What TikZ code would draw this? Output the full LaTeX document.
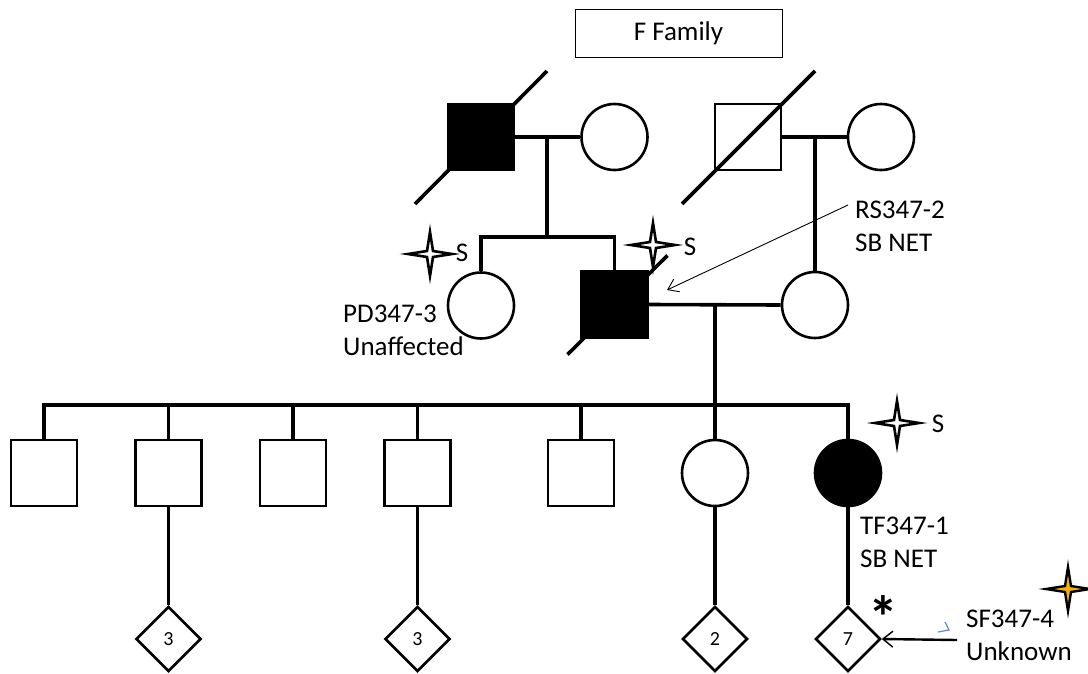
\documentclass[tikz,border=0pt]{standalone}
\usepackage{fontspec}
\setmainfont{Carlito}
\usetikzlibrary{shapes.geometric,arrows.meta}
\definecolor{stargold}{HTML}{F4B400}
\definecolor{penblue}{RGB}{90,140,220}
\newcommand\idlines[2]{\begin{tabular}[t]{@{}l@{}}#1\\#2\end{tabular}}
\tikzset{
  male/.style={draw,rectangle,minimum size=66pt,inner sep=0pt,line width=2.6pt},
  female/.style={draw,circle,minimum size=66pt,inner sep=0pt,line width=2.6pt},
  unborn/.style={draw,diamond,minimum width=65pt,minimum height=65pt,inner sep=0pt,line width=2.6pt,font=\fontsize{20}{20}\selectfont},
  affected/.style={fill=black},
  kin/.style={line width=3.6pt},
  deceased/.style={line width=3.6pt},
  idtext/.style={inner sep=0pt,font=\fontsize{27}{33}\selectfont},
  sparkle/.pic={\path[pic actions] (0,-22) -- (3,-3) -- (22,0) -- (3,3) -- (0,22) -- (-3,3) -- (-22,0) -- (-3,-3) -- cycle;}
}
\begin{document}
\begin{tikzpicture}[x=1pt,y=-1pt]%F family pedigree
\useasboundingbox (0,0) rectangle (1088,673);
\node[draw,line width=1pt,minimum width=207pt,minimum height=48pt,font=\fontsize{27}{27}\selectfont] (title) at (678.5,33) {F Family};
% generation I
\node[male,affected] (gf1) at (481,137) {};
\node[female] (gm1) at (614.5,137) {};
\node[male] (gf2) at (748,137) {};
\node[female] (gm2) at (881,137) {};
% generation II
\node[female] (aunt) at (481,305.5) {};
\node[male,affected] (dad) at (614.5,304.5) {};
\node[female] (mom) at (815,305) {};
% generation III
\foreach \n/\x in {s1/44,s2/168.5,s3/293,s4/417.5,s5/581}
  \node[male] (\n) at (\x,473) {};
\node[female] (d1) at (715,473) {};
\node[female,affected] (d2) at (848,473) {};
% generation IV
\foreach \n/\p/\k in {g1/s2/3,g2/s4/3,g3/d1/2,g4/d2/7}
  \node[unborn] (\n) at (\p |- 0,639) {\k};
% lines of descent
\coordinate (sib1) at (547,237);
\coordinate (sib2) at (715,405);
\draw[kin] (gf1.east) -- (gm1.west);
\draw[kin] (sib1 |- gf1.east) -- (sib1);
\draw[kin] (aunt.north) -- (aunt.north |- sib1) -- (dad.north |- sib1) -- (dad.north);
\draw[kin] (gf2.east) -- (gm2.west);
\draw[kin] (mom.north |- gf2.east) -- (mom.north);
\draw[kin] (dad.east) -- (mom.west);
\draw[kin] (d1.north |- dad.east) -- (d1.north);
\draw[kin] (s1.north) -- (s1.north |- sib2) -- (d2.north |- sib2) -- (d2.north);
\foreach \n in {s2,s3,s4,s5}
  \draw[kin] (\n.north) -- (\n.north |- sib2);
\foreach \p/\n in {s2/g1,s4/g2,d1/g3,d2/g4}
  \draw[kin] (\p.south) -- (\n.north);
% deceased
\draw[deceased] ([shift={(-66,67)}]gf1.center) -- ([shift={(66,-66)}]gf1.center);
\draw[deceased] ([shift={(-66,67)}]gf2.center) -- ([shift={(67,-66)}]gf2.center);
\draw[deceased] ([shift={(-47,50)}]dad.center) -- ([shift={(53,-49)}]dad.center);
% sequenced
\pic[draw,fill=white,line width=2.6pt] at (430,254) {sparkle};
\pic[draw,fill=white,line width=2.6pt] at (653,245) {sparkle};
\pic[draw,fill=white,line width=2.6pt] at (897,423) {sparkle};
\pic[draw,fill=stargold,line width=2.4pt] at (1068,589) {sparkle};
\node[idtext,anchor=base] (sa) at (462,261) {S};
\node[idtext,anchor=base] (sb) at (690,255) {S};
\node[idtext,anchor=base] (sc) at (938,432) {S};
% labels
\node[idtext,anchor=base west] (pd) at (343,322) {\idlines{PD347-3}{Unaffected}};
\node[idtext,anchor=base west] (rs) at (855,218) {\idlines{RS347-2}{SB NET}};
\node[idtext,anchor=base west] (tf) at (860,534) {\idlines{TF347-1}{SB NET}};
\node[idtext,anchor=base west] (sf) at (966,627) {\idlines{SF347-4}{Unknown}};
\node[inner sep=0pt,anchor=base,font=\fontsize{60}{60}\selectfont\bfseries] (ast) at (883,638) {*};
\coordinate (rsfrom) at (848,205);
\coordinate (rsto) at (667,290);
\draw[line width=0.9pt,-{Straight Barb[length=10pt,width=14pt]}] (rsfrom) -- (rsto);
\coordinate (sffrom) at (957,640);
\draw[line width=2.4pt,-{Straight Barb[length=10pt,width=16pt,line width=1.4pt]}] (sffrom) -- (g4.east);
\draw[penblue,line width=1.2pt] (945,622) -- (949,630) -- (938,632);
\end{tikzpicture}
\end{document}
